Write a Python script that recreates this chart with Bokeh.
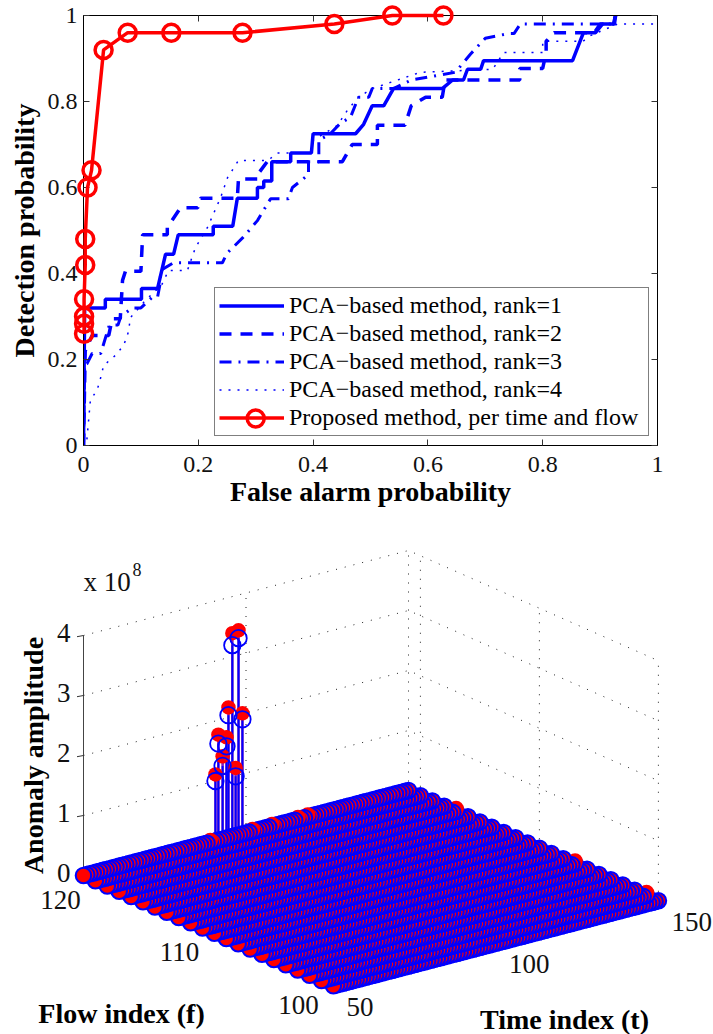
from bokeh.plotting import figure
from bokeh.layouts import column
from bokeh.models import Range1d, LinearAxis, FixedTicker, Legend, LegendItem
from bokeh.core.properties import value
from bokeh.embed import file_html
from bokeh.resources import INLINE

SERIF = value("Liberation Serif")

# ---------- ROC chart data ----------
r1_x = [0,0.002,0.038,0.038,0.101,0.101,0.129,0.143,0.157,0.165,0.226,0.226,0.26,0.268,0.303,0.303,0.314,0.314,0.328,0.328,0.361,0.361,0.397,0.40,0.474,0.488,0.503,0.523,0.54,0.625,0.643,0.662,0.669,0.692,0.697,0.852,0.871,0.892,0.904,0.923,0.927]
r1_y = [0,0.32,0.32,0.34,0.34,0.365,0.365,0.445,0.445,0.49,0.49,0.51,0.51,0.575,0.575,0.60,0.60,0.615,0.615,0.66,0.66,0.68,0.68,0.725,0.725,0.747,0.79,0.79,0.83,0.83,0.85,0.85,0.875,0.875,0.895,0.895,0.96,0.96,0.98,0.98,1.0]
r2_x = [0,0.003,0.015,0.044,0.05,0.064,0.068,0.073,0.10,0.103,0.146,0.146,0.169,0.199,0.204,0.268,0.27,0.305,0.305,0.32,0.451,0.468,0.512,0.512,0.56,0.571,0.596,0.625,0.63,0.76,0.76,0.80,0.806,0.806,0.82,0.89,0.90,0.925,0.927]
r2_y = [0,0.22,0.256,0.256,0.295,0.295,0.384,0.405,0.405,0.49,0.49,0.507,0.553,0.553,0.575,0.575,0.62,0.62,0.633,0.66,0.66,0.70,0.70,0.745,0.745,0.79,0.81,0.81,0.85,0.85,0.877,0.877,0.914,0.94,0.96,0.96,0.98,0.98,1.0]
r3_x = [0,0.002,0.006,0.015,0.03,0.045,0.06,0.065,0.085,0.10,0.12,0.129,0.134,0.134,0.157,0.242,0.25,0.278,0.303,0.326,0.357,0.364,0.392,0.392,0.41,0.41,0.43,0.448,0.465,0.479,0.497,0.503,0.54,0.571,0.648,0.674,0.70,0.74,0.75,0.761,0.92,0.927]
r3_y = [0,0.19,0.19,0.214,0.214,0.28,0.28,0.30,0.32,0.32,0.345,0.345,0.38,0.407,0.425,0.425,0.447,0.484,0.523,0.574,0.574,0.60,0.63,0.66,0.66,0.71,0.725,0.75,0.763,0.81,0.81,0.83,0.83,0.85,0.868,0.91,0.947,0.958,0.958,0.98,0.98,1.0]
r4_x = [0,0.005,0.012,0.024,0.03,0.035,0.056,0.07,0.078,0.082,0.105,0.125,0.134,0.148,0.181,0.195,0.216,0.239,0.251,0.27,0.321,0.338,0.395,0.40,0.442,0.46,0.479,0.503,0.587,0.713,0.732,0.80,0.80,0.87,0.883,0.93,1.0]
r4_y = [0,0.0,0.105,0.13,0.158,0.186,0.21,0.233,0.263,0.298,0.333,0.36,0.367,0.407,0.407,0.46,0.507,0.577,0.623,0.663,0.663,0.68,0.68,0.71,0.744,0.78,0.81,0.83,0.868,0.875,0.914,0.914,0.94,0.94,0.953,0.98,0.98]
prop_x = [0.001,0.001,0.001,0.001,0.003,0.003,0.007,0.014,0.035,0.077,0.153,0.277,0.437,0.538,0.627]
prop_y = [0.26,0.283,0.30,0.34,0.42,0.48,0.60,0.64,0.92,0.96,0.96,0.96,0.98,1.0,1.0]
roc_ticks = [0, 0.2, 0.4, 0.6, 0.8, 1]
roc_labels = {0: "0", 0.2: "0.2", 0.4: "0.4", 0.6: "0.6", 0.8: "0.8", 1: "1"}
legend_labels = ["PCA\u2212based method, rank=1", "PCA\u2212based method, rank=2",
                 "PCA\u2212based method, rank=3", "PCA\u2212based method, rank=4",
                 "Proposed method, per time and flow"]

# ---------- 3-D stem chart data ----------
time_index = list(range(50, 151))
flow_index = list(range(100, 122))
spike_t = [90.6, 91.5, 92.8, 94.0, 94.6, 95.8, 97.7, 98.9, 96.8]
spike_f = [121, 121, 121, 121, 121, 121, 121, 121, 121]
spike_true = [1.11, 1.76, 1.38, 1.68, 2.17, 3.39, 3.41, 2.01, 1.13]
spike_est = [1.00, 1.61, 1.22, 1.53, 2.04, 3.19, 3.28, 1.91, 0.99]
small_t = [89, 102, 97, 108, 116, 119, 116, 120, 108, 62, 63, 88, 120, 150, 150, 150]
small_f = [121, 121, 120, 121, 121, 121, 120, 120, 120, 115, 114, 110, 113, 107, 101, 117]
small_z = [0.03, 0.03, 0.05, 0.03, 0.03, 0.03, 0.05, 0.05, 0.05, 0.05, 0.05, 0.05, 0.05, 0.05, 0.05, 0.05]
z_ticks = [0, 1, 2, 3, 4]
f_ticks = [120, 110, 100]
t_ticks = [50, 100, 150]

BLUE = "#0000ff"
RED = "#ff0000"

# ---------- top chart ----------
p1 = figure(width=713, height=520, output_backend="svg", toolbar_location=None,
            x_range=Range1d(0, 1), y_range=Range1d(0, 1),
            frame_width=574, frame_height=430,
            min_border_left=83, min_border_right=56, min_border_top=15, min_border_bottom=75,
            background_fill_color="white", border_fill_color="white")
p1.frame_align = False
p1.grid.visible = False
p1.outline_line_color = "black"
p1.outline_line_width = 1

def style_axis(ax, labels=True):
    ax.ticker = FixedTicker(ticks=roc_ticks)
    ax.major_tick_in = 6
    ax.major_tick_out = 0
    ax.minor_tick_line_color = None
    ax.major_tick_line_color = "#333333"
    ax.axis_line_color = "black"
    if labels:
        ax.major_label_overrides = roc_labels
        ax.major_label_text_font = "Liberation Serif"
        ax.major_label_text_font_size = "24px"
        ax.major_label_text_color = "#111111"
        ax.axis_label_text_font = "Liberation Serif"
        ax.axis_label_text_font_style = "bold"
        ax.axis_label_text_font_size = "28px"
        ax.axis_label_text_color = "black"
    else:
        ax.major_label_overrides = {k: "" for k in roc_ticks}
        ax.major_label_text_font_size = "8px"

style_axis(p1.xaxis[0])
style_axis(p1.yaxis[0])
p1.xaxis[0].axis_label = "False alarm probability"
p1.yaxis[0].axis_label = "Detection probability"
p1.xaxis[0].major_label_standoff = 11
p1.yaxis[0].major_label_standoff = 6
p1.xaxis[0].axis_label_standoff = 1
p1.yaxis[0].axis_label_standoff = 5
top_ax = LinearAxis()
right_ax = LinearAxis()
style_axis(top_ax, False)
style_axis(right_ax, False)
p1.add_layout(top_ax, "above")
p1.add_layout(right_ax, "right")

l1 = p1.line(r1_x, r1_y, line_color=BLUE, line_width=3.5)
l2 = p1.line(r2_x, r2_y, line_color=BLUE, line_width=3.5, line_dash="12 9")
l3 = p1.line(r3_x, r3_y, line_color=BLUE, line_width=3, line_dash="12 7 2 7")
l4 = p1.line(r4_x, r4_y, line_color=BLUE, line_width=1.5, line_dash="2 7")
l5 = p1.line(prop_x, prop_y, line_color=RED, line_width=3.5, level="overlay")
m5 = p1.scatter(prop_x, prop_y, marker="circle", size=17, fill_color=None,
                line_color=RED, line_width=3.5, level="overlay")

legend = Legend(items=[LegendItem(label=legend_labels[0], renderers=[l1]),
                       LegendItem(label=legend_labels[1], renderers=[l2]),
                       LegendItem(label=legend_labels[2], renderers=[l3]),
                       LegendItem(label=legend_labels[3], renderers=[l4]),
                       LegendItem(label=legend_labels[4], renderers=[l5])],
                location=(131, 9), orientation="vertical",
                padding=4, margin=0, spacing=1, glyph_width=65, glyph_height=27,
                label_height=27, label_standoff=5, label_width=355,
                label_text_font="Liberation Serif", label_text_font_size="24px",
                label_text_color="black", label_text_baseline="middle",
                border_line_color="black", border_line_width=1,
                background_fill_alpha=0.0)
p1.add_layout(legend, "center")
# legend key's ring, kept at the marker's true size (a legend shrinks it to its row)
p1.scatter([0.3], [0.063], marker="circle", size=17, fill_color=None,
           line_color=RED, line_width=3.5)

# ---------- bottom chart: axes in page-sized units, 3-D view projected below ----------
def px(t, f):
    return 83 + (121 - f) * 11.9 + (t - 50) * 3.25

def py(t, f, z):
    return 875 + (121 - f) * 5.25 - (t - 50) * 0.85 - z * 60.0

p2 = figure(width=713, height=514, output_backend="svg", toolbar_location=None,
            x_range=Range1d(0, 713), y_range=Range1d(1034, 520),
            min_border=0, min_border_left=0, min_border_right=0, min_border_top=0, min_border_bottom=0,
            x_axis_location=None, y_axis_location=None,
            background_fill_color="white", border_fill_color="white")
p2.frame_align = False
p2.grid.visible = False
p2.outline_line_color = None

GRID = dict(line_color="#222222", line_width=1, line_dash="1 8")
t0, t1, f0, f1 = time_index[0], time_index[-1], flow_index[0], flow_index[-1]
for z in z_ticks[1:]:
    p2.line([px(t0, f1), px(t1, f1), px(t1, f0)],
            [py(t0, f1, z), py(t1, f1, z), py(t1, f0, z)], **GRID)
for t in [100, 150]:
    p2.line([px(t, f1), px(t, f1)], [py(t, f1, 0), py(t, f1, 4)], **GRID)
for f in f_ticks:
    p2.line([px(t1, f), px(t1, f)], [py(t1, f, 0), py(t1, f, 4)], **GRID)

# z axis
p2.line([px(t0, f1), px(t0, f1)], [py(t0, f1, 0), py(t0, f1, 4)], line_color="#444444", line_width=1)
p2.segment([px(t0, f1)] * 5, [py(t0, f1, z) for z in z_ticks],
           [px(t0 - 2, f1)] * 5, [py(t0 - 2, f1, z) - 0.5 for z in z_ticks],
           line_color="#333333", line_width=1)

# stems
sx = [px(t, f) for t, f in zip(spike_t, spike_f)]
sg = [py(t, f, 0) for t, f in zip(spike_t, spike_f)]
st = [py(t, f, z) for t, f, z in zip(spike_t, spike_f, spike_true)]
se = [py(t, f, z) for t, f, z in zip(spike_t, spike_f, spike_est)]
p2.segment(sx, sg, sx, st, line_color="#8020c0", line_width=2.6)
p2.segment(sx, sg, sx, se, line_color=BLUE, line_width=1.8)

# ground lattice, painted from the far end of each row so each disc covers the last
small = {(t, f): z for t, f, z in zip(small_t, small_f, small_z)}
gx, gy, ga = [], [], []
for f in flow_index:
    for t in reversed(time_index):
        gx.append(px(t, f))
        gy.append(py(t, f, 0))
        ga.append(1.0)
        if (t, f) in small:
            gx.append(px(t, f))
            gy.append(py(t, f, small[(t, f)]))
            ga.append(0.0)
p2.scatter(gx, gy, marker="circle", size=15.5, fill_color=RED, line_color=BLUE,
           line_width=2.1, line_alpha=ga)

# spike heads
p2.scatter(sx, st, marker="circle", size=14.5, fill_color=RED, line_color=None)
p2.scatter(sx, se, marker="circle", size=16.5, fill_color=None, line_color=BLUE, line_width=1.8)

# tick labels
TXT = dict(text_font=SERIF, text_font_size="27px", text_color="#111111")
for z in z_ticks:
    p2.text([px(t0, f1)], [py(t0, f1, z)], text=[str(z)], text_align="right", text_baseline="middle",
            x_offset=-13, y_offset=-3, **TXT)
for f in f_ticks:
    p2.text([px(t0, f)], [py(t0, f, 0)], text=[str(f)], text_align="center", text_baseline="middle",
            x_offset=-35, y_offset=19, **TXT)
for t in t_ticks:
    p2.text([px(t, f0)], [py(t, f0, 0)], text=[str(t)], text_align="left", text_baseline="middle",
            x_offset=13, y_offset=21, **TXT)

# exponent
p2.text([83], [581], text=["x 10"], text_align="left", text_baseline="middle", **TXT)
p2.text([132], [569], text=["8"], text_align="left", text_baseline="middle",
        text_font=SERIF, text_font_size="18px", text_color="#111111")

# axis titles
BOLD = dict(text_font=SERIF, text_font_style="bold", text_font_size="28px", text_color="black",
            text_baseline="middle", text_align="center")
p2.text([33], [755], text=["Anomaly amplitude"], angle=1.5708, **BOLD)
p2.text([121], [1013], text=["Flow index (f)"], **BOLD)
p2.text([564], [1019], text=["Time index (t)"], **BOLD)

page = column(p1, p2, spacing=0)
open("out.html", "w").write(file_html(page, INLINE))
